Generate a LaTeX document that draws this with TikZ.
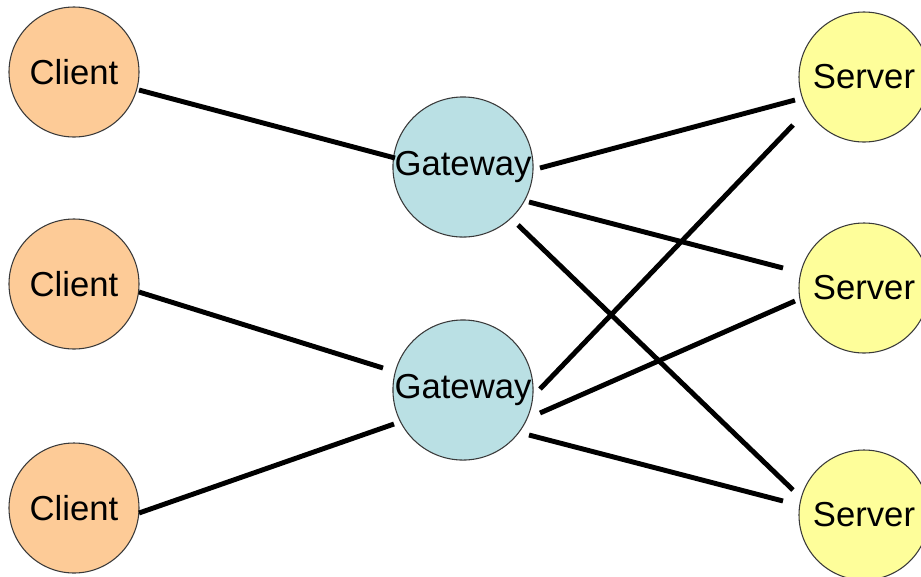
\documentclass[tikz,border=0pt]{standalone}
\usepackage{fontspec}
\setmainfont{Liberation Sans}
\usetikzlibrary{calc}
\definecolor{clientfill}{HTML}{FDCB97}
\definecolor{gatefill}{HTML}{BAE0E4}
\definecolor{serverfill}{HTML}{FEFE9A}
\definecolor{rimcol}{HTML}{3A3A3A}
\tikzset{
  peer/.style={circle, draw=rimcol, line width=0.8pt, minimum size=97.5pt, inner sep=0pt,
    font=\fontsize{26}{30}\selectfont},
  clientnode/.style={peer, fill=clientfill},
  gatenode/.style={peer, fill=gatefill},
  servernode/.style={peer, fill=serverfill},
  link/.style={line width=3.7pt, black}
}
\begin{document}
\begin{tikzpicture}[x=0.75pt, y=-0.75pt]
\clip (0,0) rectangle (921,576);
\useasboundingbox (0,0) rectangle (921,576);
\fill[white] (0,0) rectangle (921,576);
\node[clientnode] (c1) at (74,72) {Client};
\node[clientnode] (c2) at (74,284) {Client};
\node[clientnode] (c3) at (74,508) {Client};
\node[gatenode] (g1) at (463,167) {Gateway};
\node[gatenode] (g2) at (463,390) {Gateway};
\node[servernode] (s1) at (864,77) {Server};
\node[servernode] (s2) at (864,288) {Server};
\node[servernode] (s3) at (864,515) {Server};
\draw[link] ($(c1)+(65,18)$) -- ($(g1)+(-68,-9)$);
\draw[link] ($(g1)+(77,1)$) -- ($(s1)+(-69,23)$);
\draw[link] ($(g1)+(66,35)$) -- ($(s2)+(-81,-20)$);
\draw[link] ($(g1)+(55,58)$) -- ($(s3)+(-71,-25)$);
\draw[link] ($(c2)+(65,8)$) -- ($(g2)+(-80,-22)$);
\draw[link] ($(c3)+(65,5)$) -- ($(g2)+(-69,34)$);
\draw[link] ($(g2)+(77,-1)$) -- ($(s1)+(-71,48)$);
\draw[link] ($(g2)+(77,23)$) -- ($(s2)+(-69,13)$);
\draw[link] ($(g2)+(66,45)$) -- ($(s3)+(-81,-14)$);
\end{tikzpicture}
\end{document}
